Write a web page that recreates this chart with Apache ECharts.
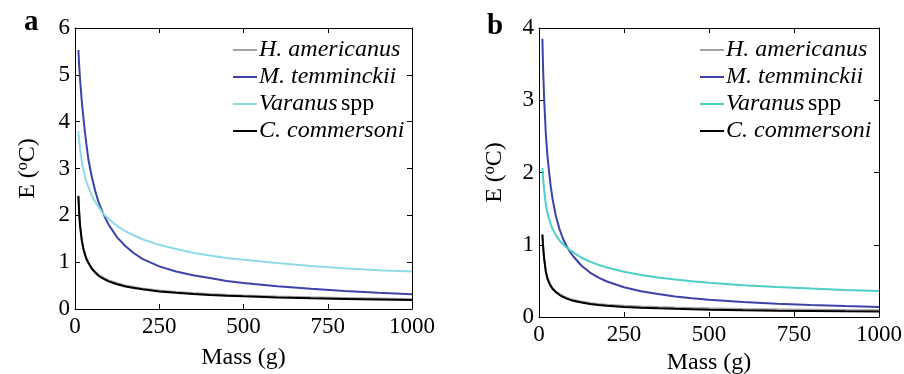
<!DOCTYPE html>
<html>
<head>
<meta charset="utf-8">
<script src="https://cdn.jsdelivr.net/npm/echarts@6/dist/echarts.min.js"></script>
<style>
  html, body { margin: 0; padding: 0; background: #fff; }
  #chart { width: 904px; height: 374px; }
</style>
</head>
<body>
<div id="chart"></div>
<script>
var masses = [10, 12, 15, 20, 25, 30, 35, 40, 50, 60, 70, 80, 90, 100, 125, 150, 175, 200, 250, 300, 350, 400, 450, 500, 600, 700, 800, 900, 1000];
var seriesNames = ["H. americanus", "M. temminckii", "Varanus spp", "C. commersoni"];

// panel a
var aAmericanus = [2.42, 2.11, 1.79, 1.48, 1.29, 1.165, 1.065, 0.995, 0.875, 0.795, 0.73, 0.685, 0.645, 0.61, 0.55, 0.5, 0.47, 0.44, 0.395, 0.365, 0.34, 0.32, 0.303, 0.29, 0.268, 0.25, 0.235, 0.222, 0.21];
var aTemminckii = [5.53, 5.25, 4.9, 4.45, 4.08, 3.75, 3.45, 3.18, 2.82, 2.52, 2.28, 2.1, 1.94, 1.8, 1.53, 1.34, 1.19, 1.07, 0.91, 0.8, 0.72, 0.66, 0.6, 0.555, 0.485, 0.43, 0.385, 0.345, 0.315];
var aVaranus = [3.8, 3.62, 3.42, 3.15, 2.97, 2.82, 2.69, 2.6, 2.42, 2.29, 2.18, 2.07, 1.99, 1.92, 1.77, 1.66, 1.57, 1.49, 1.37, 1.28, 1.2, 1.14, 1.09, 1.05, 0.98, 0.92, 0.87, 0.83, 0.8];
var aCommersoni = [2.41, 2.1, 1.78, 1.47, 1.28, 1.15, 1.05, 0.98, 0.86, 0.78, 0.71, 0.665, 0.625, 0.59, 0.53, 0.48, 0.45, 0.42, 0.375, 0.345, 0.32, 0.3, 0.283, 0.27, 0.248, 0.23, 0.215, 0.202, 0.19];

// panel b
var bAmericanus = [1.145, 0.985, 0.815, 0.637, 0.54, 0.479, 0.434, 0.4, 0.353, 0.318, 0.291, 0.27, 0.253, 0.238, 0.213, 0.194, 0.181, 0.17, 0.156, 0.145, 0.137, 0.13, 0.125, 0.12, 0.112, 0.106, 0.101, 0.097, 0.094];
var bTemminckii = [3.85, 3.45, 3.03, 2.54, 2.22, 1.99, 1.79, 1.63, 1.39, 1.22, 1.09, 0.99, 0.91, 0.844, 0.709, 0.615, 0.545, 0.491, 0.412, 0.357, 0.317, 0.285, 0.26, 0.24, 0.208, 0.184, 0.166, 0.151, 0.139];
var bVaranus = [2.06, 1.92, 1.76, 1.56, 1.44, 1.35, 1.28, 1.22, 1.13, 1.06, 1.01, 0.966, 0.93, 0.894, 0.82, 0.766, 0.722, 0.685, 0.626, 0.58, 0.546, 0.518, 0.494, 0.474, 0.44, 0.415, 0.393, 0.375, 0.36];
var bCommersoni = [1.14, 0.98, 0.81, 0.63, 0.53, 0.47, 0.425, 0.39, 0.343, 0.307, 0.28, 0.258, 0.24, 0.225, 0.2, 0.18, 0.166, 0.155, 0.14, 0.129, 0.12, 0.113, 0.107, 0.102, 0.094, 0.088, 0.083, 0.079, 0.076];

var colors = {
  gray: "#a3a3a3",
  blue: "#3c42a8",
  cyanA: "#8edbe6",
  cyanB: "#4ccfc6",
  black: "#000000"
};

var FONT = "Liberation Serif";

function boxLine() { return { show: true, onZero: false, lineStyle: { color: "#000", width: 1 } }; }
function boxTick() { return { show: true, inside: true, length: 5, lineStyle: { color: "#000", width: 1 } }; }

function pairs(vals) {
  return masses.map(function (m, i) { return [m, vals[i]]; });
}

function mainX(gi) {
  return {
    type: "value", gridIndex: gi, min: 0, max: 1000, interval: 250,
    name: "Mass (g)", nameLocation: "middle", nameGap: gi === 0 ? 37 : 33,
    nameTextStyle: { fontFamily: FONT, fontSize: 24, color: "#000" },
    axisLine: boxLine(), axisTick: boxTick(),
    axisLabel: {
      fontFamily: FONT, fontSize: 23, color: "#000", margin: 6,
      formatter: function (v) { return String(v); }
    },
    splitLine: { show: false }
  };
}
function topX(gi) {
  return {
    type: "value", gridIndex: gi, position: "top", min: 0, max: 1000, interval: 250,
    axisLine: boxLine(), axisTick: boxTick(),
    axisLabel: { show: false }, splitLine: { show: false }
  };
}
function mainY(gi, max) {
  return {
    type: "value", gridIndex: gi, min: 0, max: max, interval: 1,
    name: "{n|E (}{s|o}{n|C)}", nameLocation: "middle", nameGap: gi === 0 ? 34 : 31,
    nameRotate: 90,
    nameTextStyle: {
      rich: {
        n: { fontFamily: FONT, fontSize: 24, color: "#000", lineHeight: 26 },
        s: { fontFamily: FONT, fontSize: 16, color: "#000", lineHeight: 26, verticalAlign: "top", padding: [0, 0, 9, 0] }
      }
    },
    axisLine: boxLine(), axisTick: boxTick(),
    axisLabel: { fontFamily: FONT, fontSize: 23, color: "#000", margin: 5 },
    splitLine: { show: false }
  };
}
function rightY(gi, max) {
  return {
    type: "value", gridIndex: gi, position: "right", min: 0, max: max, interval: 1,
    axisLine: boxLine(), axisTick: boxTick(),
    axisLabel: { show: false }, splitLine: { show: false }
  };
}

function line(name, vals, color, xi, yi) {
  return {
    name: name, type: "line", xAxisIndex: xi, yAxisIndex: yi,
    data: pairs(vals), showSymbol: false, smooth: false,
    color: color, lineStyle: { color: color, width: 2 }
  };
}

function legendAt(left, cyan) {
  return {
    orient: "vertical", left: left, top: 38, padding: 0,
    itemWidth: 24, itemHeight: 2, itemGap: 3,
    icon: "rect", selectedMode: false,
    data: [
      { name: seriesNames[0], itemStyle: { color: colors.gray } },
      { name: seriesNames[1], itemStyle: { color: colors.blue } },
      { name: seriesNames[2], itemStyle: { color: cyan } },
      { name: seriesNames[3], itemStyle: { color: colors.black } }
    ],
    formatter: function (name) {
      if (name === "Varanus spp") return "{i|Varanus} {n|spp}";
      return "{i|" + name + "}";
    },
    textStyle: {
      padding: [0, 0, 0, -3],
      rich: {
        i: { fontFamily: FONT, fontStyle: "italic", fontSize: 24, color: "#000", lineHeight: 24 },
        n: { fontFamily: FONT, fontSize: 24, color: "#000", lineHeight: 24 }
      }
    }
  };
}

var chart = echarts.init(document.getElementById("chart"));
chart.setOption({
  animation: false,
  title: [
    { text: "a", left: 19, top: 3, textStyle: { fontFamily: FONT, fontWeight: "bold", fontSize: 29, color: "#000" } },
    { text: "b", left: 482, top: 7, textStyle: { fontFamily: FONT, fontWeight: "bold", fontSize: 29, color: "#000" } }
  ],
  grid: [
    { left: 75, right: 492, top: 28, bottom: 65, outerBoundsMode: "none" },
    { left: 539, right: 25, top: 28, bottom: 57, outerBoundsMode: "none" }
  ],
  legend: [legendAt(233, colors.cyanA), legendAt(700, colors.cyanB)],
  xAxis: [mainX(0), topX(0), mainX(1), topX(1)],
  yAxis: [mainY(0, 6), rightY(0, 6), mainY(1, 4), rightY(1, 4)],
  series: [
    line(seriesNames[0], aAmericanus, colors.gray, 0, 0),
    line(seriesNames[1], aTemminckii, colors.blue, 0, 0),
    line(seriesNames[2], aVaranus, colors.cyanA, 0, 0),
    line(seriesNames[3], aCommersoni, colors.black, 0, 0),
    line(seriesNames[0], bAmericanus, colors.gray, 2, 2),
    line(seriesNames[1], bTemminckii, colors.blue, 2, 2),
    line(seriesNames[2], bVaranus, colors.cyanB, 2, 2),
    line(seriesNames[3], bCommersoni, colors.black, 2, 2)
  ]
});
</script>
</body>
</html>
